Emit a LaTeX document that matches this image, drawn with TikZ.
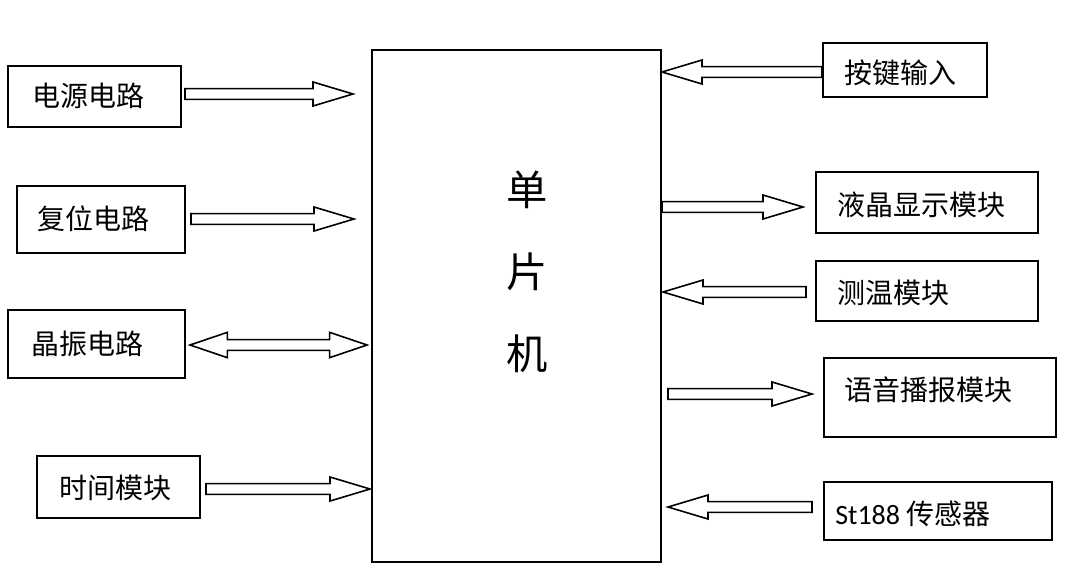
\documentclass[tikz,border=0pt]{standalone}
\usepackage{fontspec}
\setmainfont{Carlito}
\newfontfamily\cjk{Noto Sans CJK SC}
\usetikzlibrary{calc}
\tikzset{
  box/.style={draw, line width=1.3pt, inner sep=0pt},
  lbl/.style={inner sep=0pt, anchor=west, font=\fontsize{21}{25}\selectfont\cjk},
  blk/.style={draw, line width=1.2pt, line join=miter, fill=white},
}
\newcommand\rblk[2]{\draw[blk] let \p1=(#1), \p2=(#2) in
  (\x1,\y1+4pt) -- (\x2-30pt,\y1+4pt) -- (\x2-30pt,\y1+9pt) -- (\x2,\y1)
  -- (\x2-30pt,\y1-9pt) -- (\x2-30pt,\y1-4pt) -- (\x1,\y1-4pt) -- cycle;}
\newcommand\lblk[2]{\draw[blk] let \p1=(#1), \p2=(#2) in
  (\x2,\y1+4pt) -- (\x1+30pt,\y1+4pt) -- (\x1+30pt,\y1+9pt) -- (\x1,\y1)
  -- (\x1+30pt,\y1-9pt) -- (\x1+30pt,\y1-4pt) -- (\x2,\y1-4pt) -- cycle;}
\newcommand\dblk[2]{\draw[blk] let \p1=(#1), \p2=(#2) in
  (\x1,\y1) -- (\x1+28pt,\y1+9.5pt) -- (\x1+28pt,\y1+4pt) -- (\x2-28pt,\y1+4pt)
  -- (\x2-28pt,\y1+9.5pt) -- (\x2,\y1) -- (\x2-28pt,\y1-9.5pt) -- (\x2-28pt,\y1-4pt)
  -- (\x1+28pt,\y1-4pt) -- (\x1+28pt,\y1-9.5pt) -- cycle;}
% #1 name, #2 x1, #3 y1, #4 x2, #5 y2 (pixels)
\newcommand\mybox[5]{\node[box, minimum width={(#4-#2)*0.75}, minimum height={(#5-#3)*0.75}]
  (#1) at ({(#2+#4)/2},{(#3+#5)/2}) {};}
\begin{document}
\begin{tikzpicture}[x=0.75pt, y=-0.75pt]
\useasboundingbox[fill=white] (0,0) rectangle (1069,576);

% boxes
\mybox{mcu}{372}{50}{661}{562}
\mybox{pwr}{8}{66}{181}{127}
\mybox{rst}{17}{186}{185}{253}
\mybox{osc}{8}{310}{185}{378}
\mybox{rtc}{37}{456}{200}{518}
\mybox{key}{823}{43}{987}{97}
\mybox{lcd}{816}{172}{1038}{233}
\mybox{tmp}{816}{261}{1038}{321}
\mybox{voc}{824}{358}{1056}{437}
\mybox{st}{824}{482}{1052}{540}

% texts
\node[inner sep=0pt, align=center, font=\fontsize{31}{61.5}\selectfont\cjk] (mcu-t) at (527,272) {单\\片\\机};
\node[lbl] (pwr-t) at (32,96) {电源电路};
\node[lbl] (rst-t) at (37,219) {复位电路};
\node[lbl] (osc-t) at (31,344) {晶振电路};
\node[lbl] (rtc-t) at (59,488) {时间模块};
\node[lbl] (key-t) at (844,73) {按键输入};
\node[lbl] (lcd-t) at (837,205) {液晶显示模块};
\node[lbl] (tmp-t) at (837,293) {测温模块};
\node[lbl] (voc-t) at (844,390) {语音播报模块};
\node[lbl, font=\fontsize{21}{25}\selectfont] (st-t) at (835,514) {St188 {\cjk 传感器}};

% connector end points
\coordinate (a1s) at (185,94);  \coordinate (a1e) at (353,94);
\coordinate (a2s) at (191,219); \coordinate (a2e) at (354,219);
\coordinate (a3s) at (190,345); \coordinate (a3e) at (367,345);
\coordinate (a4s) at (206,489); \coordinate (a4e) at (370,489);
\coordinate (a5t) at (662,72);  \coordinate (a5s) at (822,72);
\coordinate (a6s) at (662,207); \coordinate (a6e) at (803,207);
\coordinate (a7t) at (663,292); \coordinate (a7s) at (806,292);
\coordinate (a8s) at (668,394); \coordinate (a8e) at (812,394);
\coordinate (a9t) at (668,507); \coordinate (a9s) at (812,507);

% connectors
\rblk{a1s}{a1e}
\rblk{a2s}{a2e}
\dblk{a3s}{a3e}
\rblk{a4s}{a4e}
\lblk{a5t}{a5s}
\rblk{a6s}{a6e}
\lblk{a7t}{a7s}
\rblk{a8s}{a8e}
\lblk{a9t}{a9s}
\end{tikzpicture}
\end{document}
